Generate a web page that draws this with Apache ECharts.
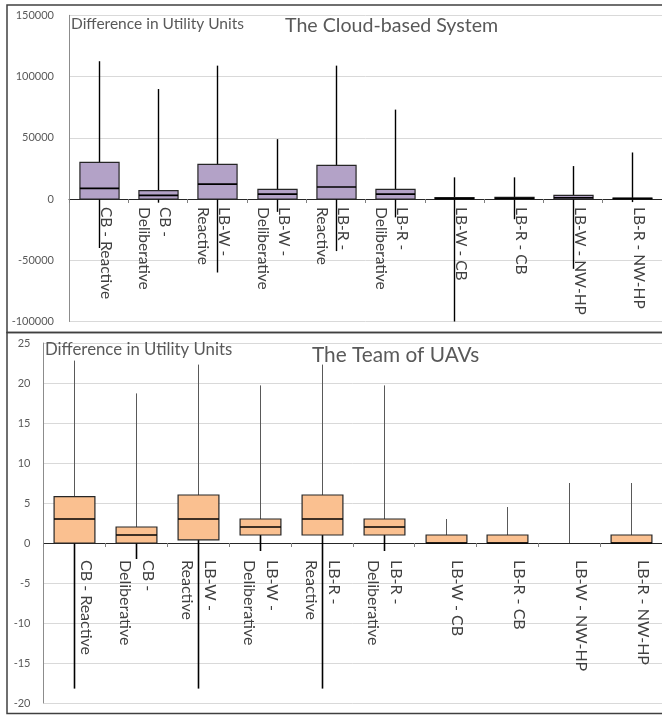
<!DOCTYPE html>
<html>
<head>
<meta charset="utf-8">
<title>Difference in Utility Units</title>
<script src="https://cdn.jsdelivr.net/npm/echarts@6/dist/echarts.min.js"></script>
<style>
  html, body { margin: 0; padding: 0; background: #ffffff; }
  #chart { width: 662px; height: 715px; }
</style>
</head>
<body>
<div id="chart"></div>
<script>
// Category names shared by both panels ("\n" marks the wrapped label lines)
const categories = [
  'CB - Reactive', 'CB -\nDeliberative', 'LB-W -\nReactive', 'LB-W -\nDeliberative',
  'LB-R -\nReactive', 'LB-R -\nDeliberative', 'LB-W - CB', 'LB-R - CB',
  'LB-W - NW-HP', 'LB-R - NW-HP'
];

// Panel 1: the cloud-based system (utility units)
const cloudMin    = [-40000, -3000, -60000, -10500, -42500, -15000, -100000, -16500, -57000, -2500];
const cloudQ1     = [0, 0, 0, 0, 0, 0, 0, 0, 0, 0];
const cloudMedian = [8700, 3000, 12200, 4000, 9800, 4000, 300, 500, 1000, 300];
const cloudQ3     = [29900, 6800, 28300, 7900, 27400, 7900, 1100, 1400, 3000, 800];
const cloudMax    = [112500, 89800, 108900, 48900, 108900, 73000, 17700, 17700, 26900, 38000];
const cloudTicks  = [-100000, -50000, 0, 50000, 100000, 150000];

// Panel 2: the team of UAVs (utility units)
const uavMin    = [-18.2, -2, -18.2, -1, -18.2, -1, 0, 0, 0, 0];
const uavQ1     = [0, 0, 0.4, 1, 1, 1, 0, 0, 0, 0];
const uavMedian = [3, 1, 3, 2, 3, 2, 0, 0, 0, 0];
const uavQ3     = [5.8, 2, 6, 3, 6, 3, 1, 1, 0, 1];
const uavMax    = [22.8, 18.7, 22.3, 19.7, 22.3, 19.7, 3, 4.5, 7.5, 7.5];
const uavTicks  = [-20, -15, -10, -5, 0, 5, 10, 15, 20, 25];

const FONT = 'Lato, "Open Sans", sans-serif';

// Plot boxes of the two panels
const topGrid = { left: 69, right: 0, top: 15.3, height: 306.2 };
const botGrid = { left: 43.5, right: 0, top: 343, height: 360 };

function rows(mins, q1s, meds, q3s, maxs) {
  return categories.map((c, i) => [i, mins[i], q1s[i], meds[i], q3s[i], maxs[i]]);
}

// Distance from the bottom of the plot up to the value 0 on its y scale
function zeroLift(ticks, height) {
  const lo = ticks[0], hi = ticks[ticks.length - 1];
  return height * (0 - lo) / (hi - lo);
}

// Rotated category labels: the first line sits `firstOffset` px right of the
// category centre, following lines step leftwards by `lineH`.
function labelSetup(firstOffset, lineH, fontSize) {
  const rich = { t: { fontFamily: FONT, fontSize: fontSize, color: '#404040', lineHeight: lineH } };
  const fmt = function (value) {
    const lines = value.split('\n');
    const diff = firstOffset - (lines.length - 1) * lineH / 2;
    let body = lines.map(l => '{t|' + l + '}').join('\n');
    const size = Math.round(Math.abs(diff) * 2);
    if (size >= 1) {
      const key = 's' + size;
      rich[key] = { lineHeight: size, fontSize: 1 };
      body = diff > 0 ? body + '\n{' + key + '| }' : '{' + key + '| }\n' + body;
    }
    return body;
  };
  categories.forEach(fmt);
  return { rich, fmt };
}

function boxRenderer(fill, upper, lower) {
  return function (params, api) {
    const i = api.value(0);
    const vMin = api.value(1), vQ1 = api.value(2), vMed = api.value(3),
          vQ3 = api.value(4), vMax = api.value(5);
    const pMin = api.coord([i, vMin]);
    const pQ1 = api.coord([i, vQ1]);
    const pMed = api.coord([i, vMed]);
    const pQ3 = api.coord([i, vQ3]);
    const pMax = api.coord([i, vMax]);
    const x = Math.round(pMax[0]) + 0.5;
    const halfW = api.size([1, 0])[0] * 0.33;
    const children = [];
    if (vMax > vQ3) {
      children.push({ type: 'line', shape: { x1: x, y1: pQ3[1], x2: x, y2: pMax[1] },
        style: { stroke: upper.color, lineWidth: upper.width } });
    }
    if (vMin < vQ1) {
      children.push({ type: 'line', shape: { x1: x, y1: pQ1[1], x2: x, y2: pMin[1] },
        style: { stroke: lower.color, lineWidth: lower.width } });
    }
    if (vQ3 > vQ1) {
      children.push({ type: 'rect',
        shape: { x: x - halfW, y: pQ3[1], width: halfW * 2, height: pQ1[1] - pQ3[1] },
        style: { fill: fill, stroke: '#262626', lineWidth: 1.2 } });
      children.push({ type: 'line',
        shape: { x1: x - halfW, y1: pMed[1], x2: x + halfW, y2: pMed[1] },
        style: { stroke: '#000000', lineWidth: 1.6 } });
    }
    return { type: 'group', children };
  };
}

const topLabels = labelSetup(7, 21, 15.5);
const botLabels = labelSetup(12, 23, 16);

// Category axis drawn along the zero line of its panel
function xAxisFor(gridIndex, labels, margin, fontSize, lift) {
  return {
    type: 'category', gridIndex, data: categories, boundaryGap: true,
    position: 'bottom', offset: -lift,
    axisLine: { onZero: false, lineStyle: { color: '#262626', width: 1 } },
    axisTick: { show: true, length: 4, lineStyle: { color: '#808080' } },
    axisLabel: {
      interval: 0, rotate: -90, margin: margin,
      fontFamily: FONT, fontSize: fontSize, color: '#404040',
      formatter: labels.fmt, rich: labels.rich
    },
    splitLine: { show: false }
  };
}

function yAxisFor(gridIndex, ticks, margin) {
  return {
    type: 'value', gridIndex,
    min: ticks[0], max: ticks[ticks.length - 1], interval: ticks[1] - ticks[0],
    axisLine: { show: true, lineStyle: { color: '#8c8c8c', width: 1 } },
    axisTick: { show: false },
    axisLabel: { fontFamily: FONT, fontSize: 11, color: '#595959', margin: margin,
      formatter: v => String(v) },
    splitLine: { lineStyle: { color: '#d9d9d9', width: 1 } }
  };
}

const chart = echarts.init(document.getElementById('chart'), null, { renderer: 'canvas' });

chart.setOption({
  animation: false,
  backgroundColor: '#ffffff',
  grid: [topGrid, botGrid],
  xAxis: [
    xAxisFor(0, topLabels, 8, 15.5, zeroLift(cloudTicks, topGrid.height)),
    xAxisFor(1, botLabels, 17, 16, zeroLift(uavTicks, botGrid.height))
  ],
  yAxis: [
    yAxisFor(0, cloudTicks, 15),
    yAxisFor(1, uavTicks, 13)
  ],
  graphic: [
    { type: 'rect', z: 100, silent: true,
      shape: { x: 7, y: 5, width: 700, height: 327.5 },
      style: { fill: 'none', stroke: '#404040', lineWidth: 1.5 } },
    { type: 'rect', z: 100, silent: true,
      shape: { x: 7, y: 332.5, width: 700, height: 381 },
      style: { fill: 'none', stroke: '#404040', lineWidth: 1.5 } },
    { type: 'text', z: 100, style: { text: 'Difference in Utility Units', x: 71, y: 23.5,
      verticalAlign: 'middle', font: '15.5px ' + FONT, fill: '#595959' } },
    { type: 'text', z: 100, style: { text: 'The Cloud-based System', x: 285, y: 25.5,
      verticalAlign: 'middle', font: '19.6px ' + FONT, fill: '#595959' } },
    { type: 'text', z: 100, style: { text: 'Difference in Utility Units', x: 45, y: 350,
      verticalAlign: 'middle', font: '16.8px ' + FONT, fill: '#595959' } },
    { type: 'text', z: 100, style: { text: 'The Team of UAVs', x: 312, y: 355,
      verticalAlign: 'middle', font: '20.8px ' + FONT, fill: '#595959' } }
  ],
  series: [
    {
      type: 'custom', xAxisIndex: 0, yAxisIndex: 0,
      renderItem: boxRenderer('#B3A2C7', { color: '#000000', width: 1.4 }, { color: '#000000', width: 1.4 }),
      encode: { x: 0, y: [1, 2, 3, 4, 5] },
      data: rows(cloudMin, cloudQ1, cloudMedian, cloudQ3, cloudMax)
    },
    {
      type: 'custom', xAxisIndex: 1, yAxisIndex: 1,
      renderItem: boxRenderer('#FAC090', { color: '#595959', width: 1 }, { color: '#000000', width: 1.6 }),
      encode: { x: 0, y: [1, 2, 3, 4, 5] },
      data: rows(uavMin, uavQ1, uavMedian, uavQ3, uavMax)
    }
  ]
});
</script>
</body>
</html>
